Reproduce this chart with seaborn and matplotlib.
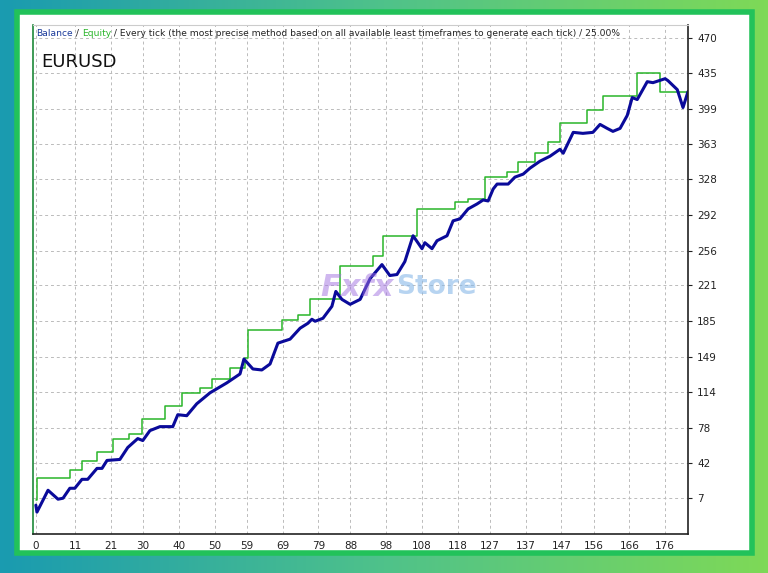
import numpy as np
import pandas as pd
import matplotlib.pyplot as plt
from matplotlib.patches import Rectangle
from matplotlib.colors import LinearSegmentedColormap
import seaborn as sns

# balance (green step line): trade index where level starts, level value
bal_x = [0, 0.3, 9.5, 13, 17, 21.5, 26, 29.6, 36, 41, 45.9, 49.2, 54.3, 58.5, 59.3, 68.8,
         73.3, 76.7, 85.1, 94.3, 97.1, 106.6, 117.2, 120.9, 125.6, 131.8, 134.9, 139.6,
         143.3, 146.6, 154.2, 158.6, 168, 174.6, 182.4]
bal_y = [5, 27, 35, 44, 53, 67, 72, 87, 100, 113, 118, 127, 138, 148, 176, 186,
         191, 207, 241, 251, 271, 298, 305, 308, 330, 335, 345, 354,
         365, 384, 397, 412, 435, 416, 416]

# equity (blue line)
eq_x = [0, 0.3, 3.4, 6.2, 7.6, 9.5, 10.9, 12.9, 14.5, 17.1, 18.5, 19.9, 23.5, 25.7, 28.5,
        29.9, 31.9, 34.7, 38.3, 39.7, 42.2, 45.0, 48.7, 53.4, 57.1, 58.2, 60.7, 63.2, 65.5,
        67.7, 71.1, 73.9, 76.1, 77.2, 78.1, 80.3, 82.8, 83.9, 85.6, 87.9, 90.7, 93.5, 96.8,
        99.0, 101.0, 103.2, 105.5, 108.0, 108.8, 110.8, 112.2, 115.0, 116.7, 118.6, 120.9,
        123.4, 125.1, 126.5, 127.9, 129.0, 132.1, 134.0, 136.3, 138.2, 141.0, 143.8, 146.6,
        147.5, 150.3, 153.0, 155.8, 157.8, 159.8, 161.4, 163.4, 165.4, 166.8, 168.2, 171.0,
        172.6, 176.0, 176.8, 179.4, 181.0, 182.4]
eq_y = [0, -7, 15, 6, 7, 17, 17, 26, 26, 37, 37, 45, 46, 58, 67,
        65, 75, 79, 79, 91, 90, 102, 113, 123, 132, 147, 137, 136, 142,
        163, 167, 178, 183, 187, 185, 188, 200, 215, 207, 202, 207, 228, 242,
        231, 232, 245, 271, 258, 264, 258, 266, 271, 286, 288, 298,
        303, 307, 306, 318, 323, 323, 330, 333, 339, 346, 351, 358,
        354, 375, 374, 375, 383, 379, 376, 379, 392, 410, 408, 426,
        425, 429, 427, 418, 400, 416]

y_ticks = [7, 42, 78, 114, 149, 185, 221, 256, 292, 328, 363, 399, 435, 470]
x_ticks = [0, 11, 21, 30, 40, 50, 59, 69, 79, 88, 98, 108, 118, 127, 137, 147, 156, 166, 176]

bal = pd.DataFrame({"trade": bal_x, "value": bal_y})
eq = pd.DataFrame({"trade": eq_x, "value": eq_y})

sns.set_style("white")
fig = plt.figure(figsize=(7.68, 5.73), dpi=100)

# gradient background with white framed panel
bg = fig.add_axes([0, 0, 1, 1])
grad = np.linspace(0, 1, 256).reshape(1, -1)
cmap = LinearSegmentedColormap.from_list("bg", ["#1a9bb0", "#4fc28a", "#7ed957"])
bg.imshow(grad, aspect="auto", cmap=cmap, extent=[0, 1, 0, 1])
bg.add_patch(Rectangle((17 / 768, 20 / 573), 735 / 768, 541 / 573, facecolor="white",
                       edgecolor="#22c25a", linewidth=4, transform=bg.transAxes))
bg.set_axis_off()

ax = fig.add_axes([33 / 768, 39 / 573, 655 / 768, 509 / 573])
sns.lineplot(data=bal, x="trade", y="value", ax=ax, color="#2ab52a", linewidth=1.1,
             drawstyle="steps-post", estimator=None)
sns.lineplot(data=eq, x="trade", y="value", ax=ax, color="#0a0a9a", linewidth=2.2,
             estimator=None)

ax.set_xlim(-0.8, 182.4)
ax.set_ylim(-29, 483)
ax.set_xticks(x_ticks)
ax.set_yticks(y_ticks)
ax.yaxis.tick_right()
ax.tick_params(axis="both", labelsize=7.5, length=3, direction="out", colors="#222222")
ax.tick_params(axis="x", pad=2)
ax.set_xlabel("")
ax.set_ylabel("")
ax.grid(True, color="#bbbbbb", linestyle=(0, (3, 3)), linewidth=0.7)
for s in ["left", "right", "bottom"]:
    ax.spines[s].set_color("#222222")
    ax.spines[s].set_linewidth(1.2)
ax.spines["left"].set_color("#1e8a3a")
ax.spines["top"].set_color("#cccccc")

# header text, pieces chained one after another
fs = 6.6
t = ax.text(0.005, 0.993, "Balance", color="#1a3a9a", fontsize=fs, transform=ax.transAxes, va="top")
for s, c in [(" / ", "#222222"), ("Equity", "#2ab52a"),
             (" / Every tick (the most precise method based on all available least timeframes "
              "to generate each tick) / 25.00%", "#222222")]:
    t = ax.annotate(s, xy=(1, 0), xycoords=t, va="bottom", color=c, fontsize=fs)

ax.text(0.012, 0.945, "EURUSD", color="#111111", fontsize=13, transform=ax.transAxes, va="top")

# watermark
ax.text(0.55, 0.485, "Fxfx", color="#a070e0", alpha=0.5, fontsize=22,
        fontweight="bold", style="italic", transform=ax.transAxes, ha="right", va="center")
ax.text(0.555, 0.485, "Store", color="#88b8e8", alpha=0.6, fontsize=19,
        fontweight="bold", transform=ax.transAxes, ha="left", va="center")

fig.savefig("out.png", dpi=100)
